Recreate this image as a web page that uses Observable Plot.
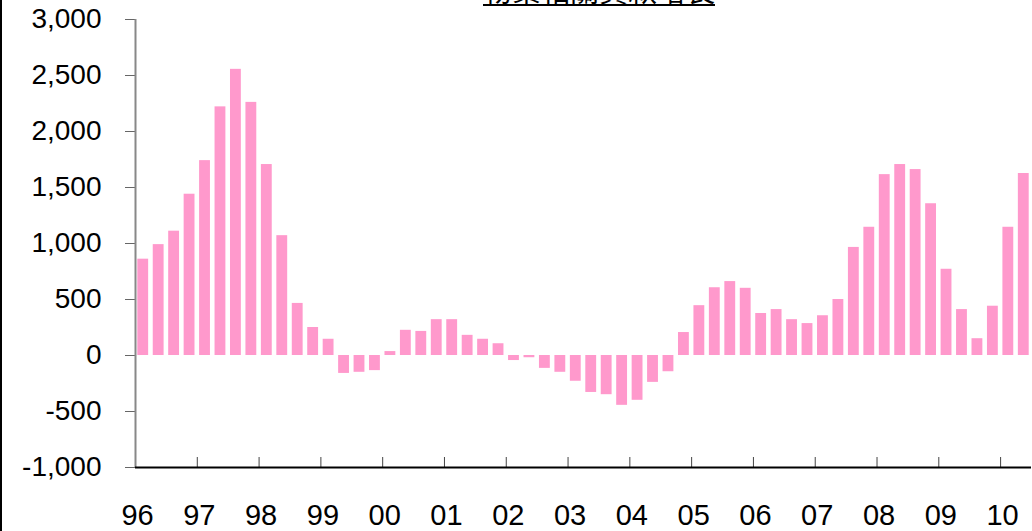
<!DOCTYPE html>
<html>
<head>
<meta charset="utf-8">
<script src="https://cdn.jsdelivr.net/npm/d3@7"></script>
<script src="https://cdn.jsdelivr.net/npm/@observablehq/plot@0.6"></script>
<style>
  html, body { margin: 0; padding: 0; background: #fff; }
  #wrap { position: relative; width: 1032px; height: 531px; overflow: hidden; }
  #title { position: absolute; left: 483px; width: 232px; top: -26px; height: 30px;
           border-bottom: 2px solid #000; font-family: "Noto Sans CJK TC", sans-serif;
           font-size: 29px; line-height: 30px; text-align: center; white-space: nowrap; color: #000; }
  #edge { position: absolute; left: 0; top: 0; width: 2px; height: 531px; background: #000; }
  #chart { position: absolute; left: 0; top: 0; }
</style>
</head>
<body>
<div id="wrap">
  <div id="chart"></div>
  <div id="title">物業相關貸款增長</div>
  <div id="edge"></div>
</div>
<script>
const title = "物業相關貸款增長";
const startYear = 1996;
// quarterly values, 1996Q1 .. 2010Q2
const values = [
  860, 990, 1110, 1440, 1740, 2220, 2555, 2260, 1705, 1070, 465, 250,
  145, -160, -150, -135, 35, 225, 215, 320, 320, 180, 145, 105,
  -45, -20, -115, -150, -230, -330, -350, -445, -400, -240, -145, 205,
  445, 605, 660, 600, 375, 410, 320, 285, 355, 500, 965, 1145,
  1615, 1705, 1660, 1355, 770, 410, 150, 440, 1145, 1625
];
const yearTicks = [1996, 1997, 1998, 1999, 2000, 2001, 2002, 2003, 2004, 2005, 2006, 2007, 2008, 2009, 2010];
const yearLabels = ["96", "97", "98", "99", "00", "01", "02", "03", "04", "05", "06", "07", "08", "09", "10"];
const yTicks = [-1000, -500, 0, 500, 1000, 1500, 2000, 2500, 3000];
const yLabels = ["-1,000", "-500", "0", "500", "1,000", "1,500", "2,000", "2,500", "3,000"];

const data = values.map((v, i) => ({x1: startYear + i / 4, x2: startYear + (i + 1) / 4, v}));
const yearLabelOf = new Map(yearTicks.map((t, i) => [t, yearLabels[i]]));
const yLabelOf = new Map(yTicks.map((t, i) => [t, yLabels[i]]));

const chart = Plot.plot({
  width: 1032,
  height: 531,
  marginLeft: 135,
  marginRight: 1,
  marginTop: 19,
  marginBottom: 64,
  style: {fontFamily: "'Liberation Sans', Arial, sans-serif", background: "#fff"},
  x: {type: "linear", domain: [startYear, startYear + values.length / 4]},
  y: {domain: [-1000, 3000]},
  marks: [
    Plot.rectY(data, {x1: "x1", x2: "x2", y: "v", fill: "#ff99cc", insetLeft: 2.3, insetRight: 2.3}),
    Plot.axisY({ticks: yTicks, tickFormat: d => yLabelOf.get(d), tickSize: 10, tickPadding: 24,
                fontSize: 28, stroke: "#666", fill: "#000", label: null}),
    Plot.axisX({ticks: yearTicks, tickFormat: d => yearLabelOf.get(d), tickSize: 0, tickPadding: 37,
                fontSize: 29, fill: "#000", dx: 2, label: null}),
    Plot.ruleX(yearTicks, {x: d => d, y1: -1000, y2: -1000, insetTop: -10, stroke: "#444"}),
    Plot.ruleX([startYear], {y1: -1000, y2: 3000, stroke: "#888", strokeWidth: 2}),
    Plot.ruleY([-1000], {stroke: "#000", strokeWidth: 2})
  ]
});
document.getElementById("chart").appendChild(chart);
</script>
</body>
</html>
